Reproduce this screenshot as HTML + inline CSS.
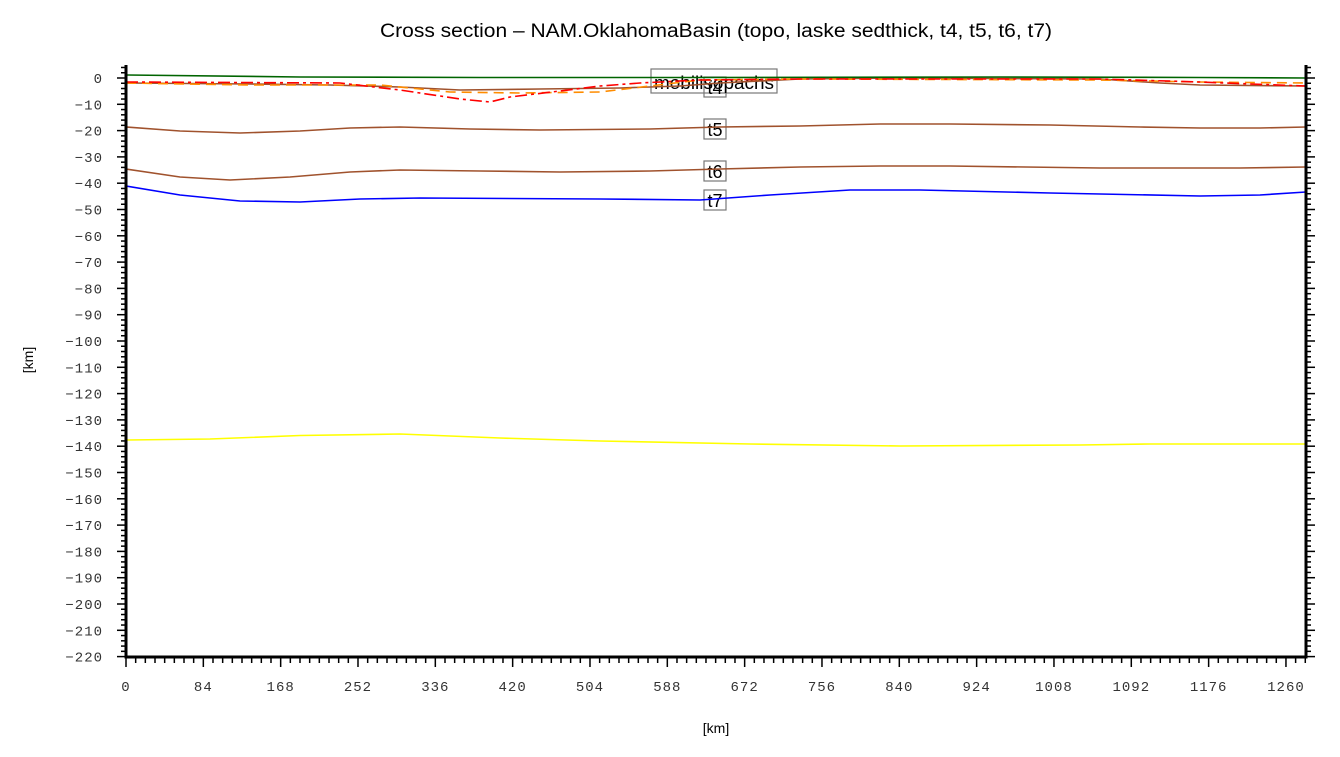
<!DOCTYPE html>
<html><head><meta charset="utf-8"><style>
body{margin:0;background:#fff;}
svg{display:block;}
</style></head><body>
<svg id="s" width="1340" height="757" xmlns="http://www.w3.org/2000/svg">
<text x="716" y="37" font-family="Liberation Sans, sans-serif" font-size="19" text-anchor="middle" fill="#000" textLength="672" lengthAdjust="spacingAndGlyphs">Cross section – NAM.OklahomaBasin (topo, laske sedthick, t4, t5, t6, t7)</text>
<text x="716" y="733" font-family="Liberation Sans, sans-serif" font-size="14" text-anchor="middle">[km]</text>
<text x="33" y="360" font-family="Liberation Sans, sans-serif" font-size="14" text-anchor="middle" transform="rotate(-90 33 360)">[km]</text>
<g id="ticks"></g>
<g fill="none" stroke="#777" stroke-width="1.2">
<rect x="651" y="69" width="126" height="24"/>
<rect x="704" y="77" width="22" height="20"/>
<rect x="704" y="119" width="22" height="20"/>
<rect x="704" y="161" width="22" height="20"/>
<rect x="704" y="190" width="22" height="20"/>
</g>
<g font-family="Liberation Sans, sans-serif" font-size="18" fill="#000" text-anchor="middle">
<text x="714" y="89" textLength="120" lengthAdjust="spacingAndGlyphs">mobilisopachs</text>
<text x="715" y="94">t4</text>
<text x="715" y="136">t5</text>
<text x="715" y="178">t6</text>
<text x="715" y="207">t7</text>
</g>
<g fill="none" stroke-width="1.6" stroke-linejoin="round">
<polyline stroke="#ffff00" points="126,440 210,439 300,435.5 400,434 500,438 600,441 750,444 900,446 1080,445 1150,444 1306,444"/>
<polyline stroke="#0000ff" points="126,186 180,195 240,201 300,202 360,199 420,198 600,199 700,200 770,195 850,190 920,190 1050,193 1200,196 1260,195 1306,192"/>
<polyline stroke="#a0522d" points="126,169 180,177 230,180 290,177 350,172 400,170 480,171 560,172 650,171 720,169 800,167 880,166 950,166 1100,168 1240,168 1306,167"/>
<polyline stroke="#a0522d" points="126,127 180,131 240,133 300,131 350,128 400,127 470,129 540,130 650,129 720,127 800,126 880,124 950,124 1050,125 1140,127 1200,128 1260,128 1306,127"/>
<polyline stroke="#a0522d" points="126,83 250,84 330,85 400,87 460,90 540,89 620,88 680,86 720,83 800,79 900,78 1100,79 1160,83 1200,85 1306,86"/>
<polyline stroke="#006400" points="126,75 300,77 480,77.5 700,77.5 1000,77 1200,77.5 1306,78"/>
<polyline stroke="#ff8c00" stroke-dasharray="10,6" points="126,83 250,85 380,85 420,89 450,92 520,93 600,92 650,86 700,80 800,79 1100,80 1200,82 1306,83"/>
<polyline stroke="#ff0000" stroke-dasharray="12,4,3,4" points="126,82 340,83 400,90 460,99 490,102 510,97 560,91 600,86 640,83 700,80 800,79 1100,79 1200,82 1250,84 1306,86"/>
</g>
<g stroke="#000" stroke-width="3" fill="none">
<line x1="126" y1="65" x2="126" y2="657"/>
<line x1="1306" y1="65" x2="1306" y2="657"/>
<line x1="124.5" y1="657" x2="1307.5" y2="657"/>
</g>
</svg>
<script>
var g=document.getElementById('ticks'),h='';
function yv(v){return 78-v*2.63;}
function xv(v){return 126+v*0.9206;}
for(var v=4;v>=-220;v-=2){var y=yv(v),maj=(v%10===0);
 h+='<line x1="'+(maj?117:121)+'" y1="'+y+'" x2="126" y2="'+y+'" stroke="#000" stroke-width="1.5"/>';
 h+='<line x1="1306" y1="'+y+'" x2="'+(maj?1315:1311)+'" y2="'+y+'" stroke="#000" stroke-width="1.5"/>';
 if(maj)h+='<text x="103" y="'+(y+5)+'" font-family="Liberation Mono, monospace" font-size="14" fill="#333" text-anchor="end" letter-spacing="1">'+(v<0?'\u2212'+(-v):v)+'</text>';}
for(var i=0;i*10.5<=1281;i++){var k=i*10.5,x=xv(k),maj=(i%8===0);
 h+='<line x1="'+x+'" y1="657" x2="'+x+'" y2="'+(maj?667:663)+'" stroke="#000" stroke-width="1.5"/>';
 if(maj)h+='<text x="'+x+'" y="691" font-family="Liberation Mono, monospace" font-size="14" fill="#333" text-anchor="middle" letter-spacing="1">'+k+'</text>';}
g.innerHTML=h;
</script>
</body></html>
